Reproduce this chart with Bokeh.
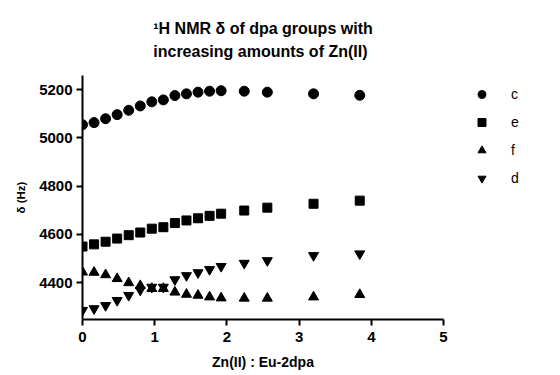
from bokeh.plotting import figure
from bokeh.models import Range1d, Title, Legend, LegendItem, FixedTicker
from bokeh.embed import file_html
from bokeh.resources import INLINE

# Data
ratio = [0, 0.16, 0.32, 0.48, 0.64, 0.80, 0.96, 1.12, 1.28, 1.44, 1.60, 1.76, 1.92, 2.24, 2.56, 3.20, 3.84]
c_vals = [5054, 5063, 5079, 5096, 5114, 5132, 5149, 5157, 5175, 5182, 5189, 5193, 5195, 5193, 5189, 5182, 5176]
e_vals = [4550, 4559, 4570, 4583, 4597, 4608, 4624, 4630, 4647, 4658, 4667, 4677, 4686, 4699, 4711, 4727, 4740]
f_vals = [4444, 4443, 4433, 4417, 4400, 4388, 4376, 4376, 4361, 4352, 4348, 4341, 4337, 4336, 4336, 4341, 4351]
d_vals = [4286, 4293, 4306, 4327, 4348, 4370, 4382, 4382, 4413, 4430, 4442, 4455, 4468, 4481, 4492, 4513, 4520]
x_ticks = [0, 1, 2, 3, 4, 5]
y_ticks = [4400, 4600, 4800, 5000, 5200]
title_lines = ["¹H NMR δ of dpa groups with", "increasing amounts of Zn(II)"]

FONT = "Liberation Sans"

p = figure(frame_width=361, frame_height=244,
           min_border_left=82, min_border_right=108, min_border_top=75, min_border_bottom=48,
           x_range=Range1d(0, 5.0), y_range=Range1d(4248, 5258),
           output_backend="svg", toolbar_location=None, title=None)

p.add_layout(Title(text="\n".join(title_lines), align="center", text_font=FONT,
                   text_font_size="16px", text_font_style="bold", text_line_height=1.36,
                   text_color="black", standoff=31), "above")

p.outline_line_color = None
p.xgrid.grid_line_color = None
p.ygrid.grid_line_color = None

for ax in (p.xaxis[0], p.yaxis[0]):
    ax.axis_line_width = 2
    ax.axis_line_color = "black"
    ax.major_tick_line_width = 2
    ax.major_tick_line_color = "black"
    ax.major_tick_out = 6
    ax.major_tick_in = 0
    ax.minor_tick_line_color = None
    ax.major_label_text_font = FONT
    ax.major_label_text_font_size = "15px"
    ax.major_label_text_font_style = "bold"
    ax.major_label_text_color = "black"
    ax.axis_label_text_font = FONT
    ax.axis_label_text_font_style = "bold"
    ax.axis_label_text_color = "black"

p.xaxis.ticker = FixedTicker(ticks=x_ticks)
p.yaxis.ticker = FixedTicker(ticks=y_ticks)
p.xaxis.axis_label = "Zn(II) : Eu-2dpa"
p.yaxis.axis_label = "δ (Hz)"
p.xaxis.axis_label_text_font_size = "14px"
p.yaxis.axis_label_text_font_size = "11.5px"
p.xaxis.major_label_standoff = 6
p.xaxis.axis_label_standoff = 9
p.yaxis.major_label_standoff = 4
p.yaxis.axis_label_standoff = 9

rc = p.scatter(ratio, c_vals, marker="circle", size=10, color="black")
re = p.scatter(ratio, e_vals, marker="square", size=9, color="black")
rf = p.scatter(ratio, f_vals, marker="triangle", size=10, color="black")
rd = p.scatter(ratio, d_vals, marker="inverted_triangle", size=10, color="black")

legend = Legend(items=[LegendItem(label="c", renderers=[rc]),
                       LegendItem(label="e", renderers=[re]),
                       LegendItem(label="f", renderers=[rf]),
                       LegendItem(label="d", renderers=[rd])],
                location="top_left", border_line_color=None, background_fill_alpha=0,
                margin=9, padding=0, glyph_width=59, glyph_height=20, label_height=20,
                label_standoff=-2, spacing=8,
                label_text_font=FONT, label_text_font_size="14px", label_text_color="black")
p.add_layout(legend, "right")

open("out.html", "w").write(file_html(p, INLINE))
